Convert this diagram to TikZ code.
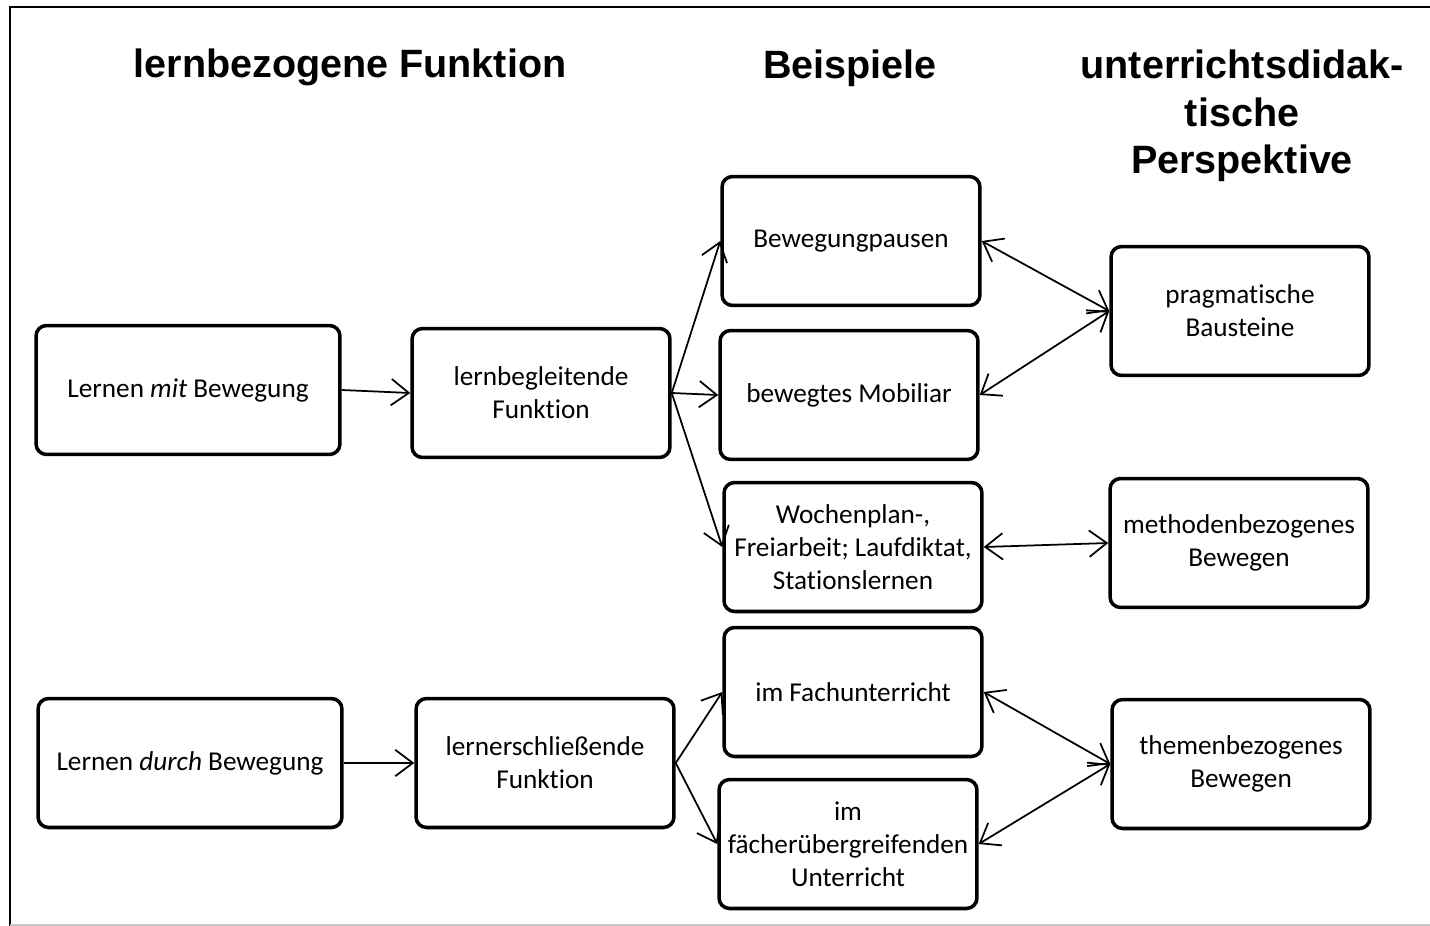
\documentclass[tikz,border=0pt]{standalone}
\usepackage{fontspec}
\setmainfont[Ligatures={NoCommon}]{Carlito}
\newfontfamily\kopffont{Liberation Sans}
\usepackage{xcolor}
\usetikzlibrary{arrows.meta}
\definecolor{rahmen}{HTML}{000000}
\definecolor{kante}{HTML}{C8C8C8}
\tikzset{
  kasten/.style={draw=rahmen, line width=2pt, rounded corners=6pt, minimum width=5.16cm, minimum height=2.58cm, align=center, inner sep=2pt, font=\fontsize{15.5}{18.7}\selectfont},
  breitkasten/.style={kasten, minimum width=6.08cm},
  kopf/.style={align=center, font=\kopffont\bfseries\fontsize{22.5}{27}\selectfont},
  pfeil/.style={line width=1pt, -{Straight Barb[length=10pt,width=15pt]}},
  doppelpfeil/.style={line width=1pt, {Straight Barb[length=10pt,width=15pt]}-{Straight Barb[length=10pt,width=15pt]}}
}

\begin{document}
\begin{tikzpicture}[x=0.02cm, y=-0.02cm]
\useasboundingbox (0,0) rectangle (1430,926);
% frame around the figure
\draw[rahmen, line width=1.6pt] (10,926) -- (10,7) -- (1430,7);
\draw[kante, line width=0.6pt] (10,925) -- (1430,925);

% column headings
\node[kopf] (hFunktion) at (350,67) {lernbezogene Funktion};
\node[kopf] (hBeispiele) at (850,68) {Beispiele};
\node[kopf] (hPerspektive) at (1242,116) {unterrichtsdidak-\\tische\\Perspektive};

% first column
\node[breitkasten] (mitBew) at (188,390) {Lernen \textit{mit} Bewegung};
\node[breitkasten] (durchBew) at (190,763) {Lernen \textit{durch} Bewegung};

% second column
\node[kasten] (begleit) at (541,393) {lernbegleitende\\Funktion};
\node[kasten] (erschl) at (545,763) {lernerschließende\\Funktion};

% examples
\node[kasten] (pausen) at (851,241) {Bewegungpausen};
\node[kasten] (mobiliar) at (849,395) {bewegtes Mobiliar};
\node[kasten] (wochen) at (853,547) {Wochenplan-,\\Freiarbeit; Laufdiktat,\\Stationslernen};
\node[kasten] (fach) at (853,692) {im Fachunterricht};
\node[kasten] (uebergr) at (848,844) {im\\fächerübergreifenden\\Unterricht};

% perspective
\node[kasten] (baust) at (1240,311) {pragmatische\\Bausteine};
\node[kasten] (methode) at (1239,543) {methodenbezogenes\\Bewegen};
\node[kasten] (thema) at (1241,764) {themenbezogenes\\Bewegen};

% connectors
\draw[pfeil] (mitBew.east) -- (begleit.west);
\draw[pfeil] (durchBew.east) -- (erschl.west);
\draw[pfeil] (begleit.east) -- (pausen.west);
\draw[pfeil] (begleit.east) -- (mobiliar.west);
\draw[pfeil] (begleit.east) -- (wochen.west);
\draw[pfeil] (erschl.east) -- (fach.west);
\draw[pfeil] (erschl.east) -- (uebergr.west);

\draw[doppelpfeil] (pausen.east) -- (baust.west);
\draw[doppelpfeil] (mobiliar.east) -- (baust.west);
\draw[doppelpfeil] (wochen.east) -- (methode.west);
\draw[doppelpfeil] (fach.east) -- (thema.west);
\draw[doppelpfeil] (uebergr.east) -- (thema.west);

\end{tikzpicture}
\end{document}
